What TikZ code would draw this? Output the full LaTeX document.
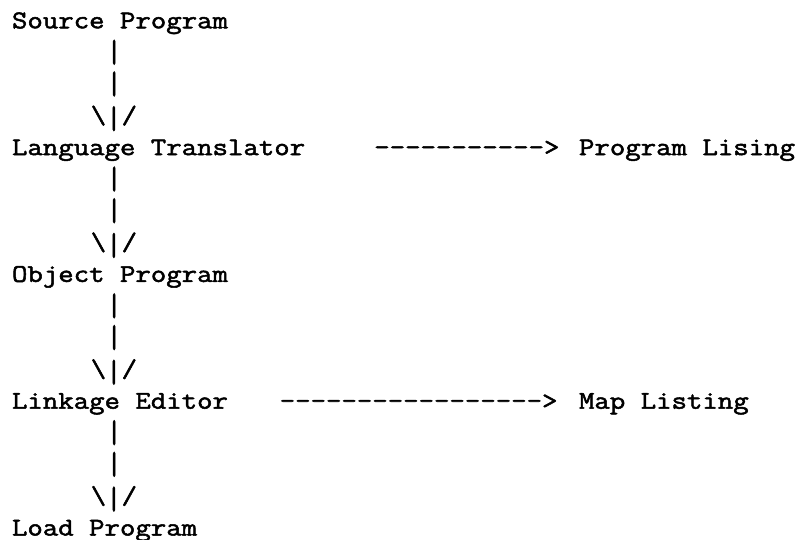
\documentclass[tikz,border=0pt]{standalone}
\usepackage{fontspec}
\usepackage{graphicx}
\newfontfamily\tw[FakeStretch=1.175,FakeBold=2]{Latin Modern Mono}
\newcommand\tallbar{\raisebox{-2pt}{\scalebox{1}[1.25]{|}}}
\newcommand\lowbar{\raisebox{-5pt}{\scalebox{1}[1.25]{|}}}
\begin{document}
\begin{tikzpicture}[x=1pt,y=-1pt,
  tt/.style={inner sep=0pt,outer sep=0pt,anchor=base west,font=\tw\fontsize{25.5}{31.7}\selectfont}]
\useasboundingbox (0,0) rectangle (802,540);
\def\cw{15.75}
\def\xo{12}
\def\bo{28.3}
\def\lp{31.7}
% labels
\node[tt] (src)  at ({\xo+0*\cw},{\bo+0*\lp})  {Source Program};
\node[tt] (lt)   at ({\xo+0*\cw},{\bo+4*\lp})  {Language Translator};
\node[tt] (obj)  at ({\xo+0*\cw},{\bo+8*\lp})  {Object Program};
\node[tt] (le)   at ({\xo+0*\cw},{\bo+12*\lp}) {Linkage Editor};
\node[tt] (ld)   at ({\xo+0*\cw},{\bo+16*\lp}) {Load Program};
\node[tt] (pl)   at ({\xo+36*\cw},{\bo+4*\lp})  {Program Lising};
\node[tt] (ml)   at ({\xo+36*\cw},{\bo+12*\lp}) {Map Listing};
% vertical ASCII connectors
\foreach \r/\n in {0/a,4/b,8/c,12/d}{
  \node[tt] (v\n1) at ({\xo+6*\cw},{\bo+(\r+1)*\lp}) {\tallbar};
  \node[tt] (v\n2) at ({\xo+6*\cw},{\bo+(\r+2)*\lp}) {\tallbar};
  \node[tt] (v\n3) at ({\xo+5*\cw},{\bo+(\r+3)*\lp}) {\textbackslash\lowbar/};
}
% horizontal ASCII connectors
\node[tt] (h1) at ({\xo+23*\cw},{\bo+4*\lp})  {----------->};
\node[tt] (h2) at ({\xo+17*\cw},{\bo+12*\lp}) {----------------->};
\end{tikzpicture}
\end{document}
